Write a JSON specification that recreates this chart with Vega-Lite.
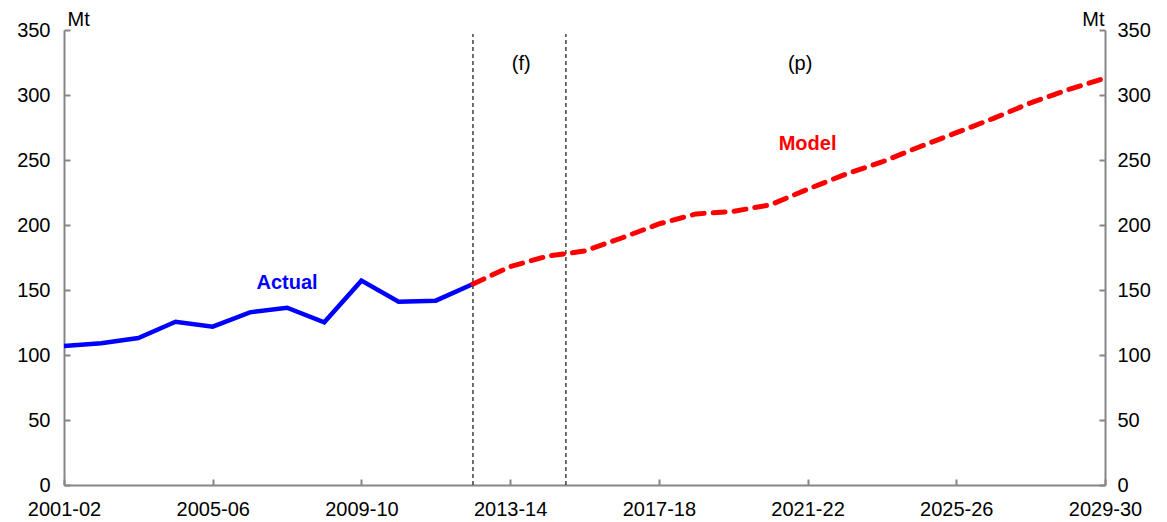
{
  "$schema": "https://vega.github.io/schema/vega-lite/v6.json",
  "width": 1041,
  "height": 455,
  "autosize": "none",
  "padding": {"left": 64, "top": 30, "right": 62, "bottom": 37},
  "background": "white",
  "config": {
    "view": {"stroke": null},
    "font": "Liberation Sans",
    "axis": {
      "grid": false,
      "domainColor": "#868686",
      "domainWidth": 2,
      "tickColor": "#868686",
      "tickWidth": 2,
      "tickSize": -6,
      "labelFont": "Liberation Sans",
      "labelFontSize": 20,
      "labelColor": "#000000",
      "titleFont": "Liberation Sans",
      "titleFontSize": 20,
      "titleFontWeight": "normal",
      "titleColor": "#000000"
    }
  },
  "datasets": {
    "series": [
      {"year": 2001, "value": 107.0, "series": "Actual"},
      {"year": 2002, "value": 109.0, "series": "Actual"},
      {"year": 2003, "value": 113.0, "series": "Actual"},
      {"year": 2004, "value": 125.6, "series": "Actual"},
      {"year": 2005, "value": 121.8, "series": "Actual"},
      {"year": 2006, "value": 132.8, "series": "Actual"},
      {"year": 2007, "value": 136.4, "series": "Actual"},
      {"year": 2008, "value": 125.1, "series": "Actual"},
      {"year": 2009, "value": 157.2, "series": "Actual"},
      {"year": 2010, "value": 141.0, "series": "Actual"},
      {"year": 2011, "value": 141.8, "series": "Actual"},
      {"year": 2012, "value": 154.6, "series": "Actual"},
      {"year": 2012, "value": 154.6, "series": "Model"},
      {"year": 2013, "value": 168.0, "series": "Model"},
      {"year": 2014, "value": 176.0, "series": "Model"},
      {"year": 2015, "value": 180.0, "series": "Model"},
      {"year": 2016, "value": 190.0, "series": "Model"},
      {"year": 2017, "value": 200.8, "series": "Model"},
      {"year": 2018, "value": 208.5, "series": "Model"},
      {"year": 2019, "value": 210.5, "series": "Model"},
      {"year": 2020, "value": 215.5, "series": "Model"},
      {"year": 2021, "value": 227.5, "series": "Model"},
      {"year": 2022, "value": 238.8, "series": "Model"},
      {"year": 2023, "value": 248.5, "series": "Model"},
      {"year": 2024, "value": 260.0, "series": "Model"},
      {"year": 2025, "value": 271.0, "series": "Model"},
      {"year": 2026, "value": 282.0, "series": "Model"},
      {"year": 2027, "value": 294.0, "series": "Model"},
      {"year": 2028, "value": 304.0, "series": "Model"},
      {"year": 2029, "value": 313.0, "series": "Model"}
    ],
    "dividers": [
      {"year": 2012, "bottom": 0, "top": 347},
      {"year": 2014.5, "bottom": 0, "top": 347}
    ],
    "seriesLabels": [
      {"year": 2007, "value": 155.5, "text": "Actual", "series": "Actual"},
      {"year": 2021, "value": 262.5, "text": "Model", "series": "Model"}
    ],
    "periodLabels": [
      {"year": 2013.3, "value": 324, "text": "(f)"},
      {"year": 2020.8, "value": 324, "text": "(p)"}
    ]
  },
  "resolve": {"axis": {"y": "independent"}},
  "layer": [
    {
      "data": {"name": "dividers"},
      "mark": {"type": "rule", "color": "#333333", "strokeWidth": 1.4, "strokeDash": [4, 3]},
      "encoding": {
        "x": {
          "field": "year", "type": "quantitative",
          "scale": {"domain": [2001, 2029], "nice": false, "zero": false},
          "axis": {
            "values": [2001, 2005, 2009, 2013, 2017, 2021, 2025, 2029],
            "labelExpr": "datum.value + '-' + slice('0' + ((datum.value + 1) % 100), -2)",
            "labelPadding": 20,
            "labelFlush": false,
            "title": null
          }
        },
        "y": {
          "field": "bottom", "type": "quantitative",
          "scale": {"domain": [0, 350], "nice": false},
          "axis": {
            "orient": "left",
            "values": [0, 50, 100, 150, 200, 250, 300, 350],
            "labelPadding": 20,
            "title": "Mt",
            "titleAngle": 0,
            "titleAlign": "left",
            "titleBaseline": "alphabetic",
            "titleX": 3,
            "titleY": -5
          }
        },
        "y2": {"field": "top"}
      }
    },
    {
      "data": {"name": "series"},
      "transform": [{"filter": "datum.series === 'Actual'"}],
      "mark": {"type": "line", "color": "#0000FF", "strokeWidth": 4.5, "strokeJoin": "miter"},
      "encoding": {
        "x": {"field": "year", "type": "quantitative"},
        "y": {
          "field": "value", "type": "quantitative",
          "axis": {
            "orient": "right",
            "values": [0, 50, 100, 150, 200, 250, 300, 350],
            "labelPadding": 18,
            "title": "Mt",
            "titleAngle": 0,
            "titleAlign": "right",
            "titleBaseline": "alphabetic",
            "titleX": -1,
            "titleY": -5
          }
        }
      }
    },
    {
      "data": {"name": "series"},
      "transform": [{"filter": "datum.series === 'Model'"}],
      "mark": {"type": "line", "color": "#FF0000", "strokeWidth": 5, "strokeDash": [12, 9], "strokeCap": "round"},
      "encoding": {
        "x": {"field": "year", "type": "quantitative"},
        "y": {"field": "value", "type": "quantitative", "axis": null}
      }
    },
    {
      "data": {"name": "seriesLabels"},
      "mark": {"type": "text", "fontSize": 20, "fontWeight": "bold", "align": "center", "baseline": "middle", "font": "Liberation Sans"},
      "encoding": {
        "x": {"field": "year", "type": "quantitative"},
        "y": {"field": "value", "type": "quantitative", "axis": null},
        "text": {"field": "text"},
        "color": {
          "field": "series", "type": "nominal",
          "scale": {"domain": ["Actual", "Model"], "range": ["#0000FF", "#FF0000"]},
          "legend": null
        }
      }
    },
    {
      "data": {"name": "periodLabels"},
      "mark": {"type": "text", "fontSize": 20, "align": "center", "baseline": "middle", "color": "#000000", "font": "Liberation Sans"},
      "encoding": {
        "x": {"field": "year", "type": "quantitative"},
        "y": {"field": "value", "type": "quantitative", "axis": null},
        "text": {"field": "text"}
      }
    }
  ]
}
